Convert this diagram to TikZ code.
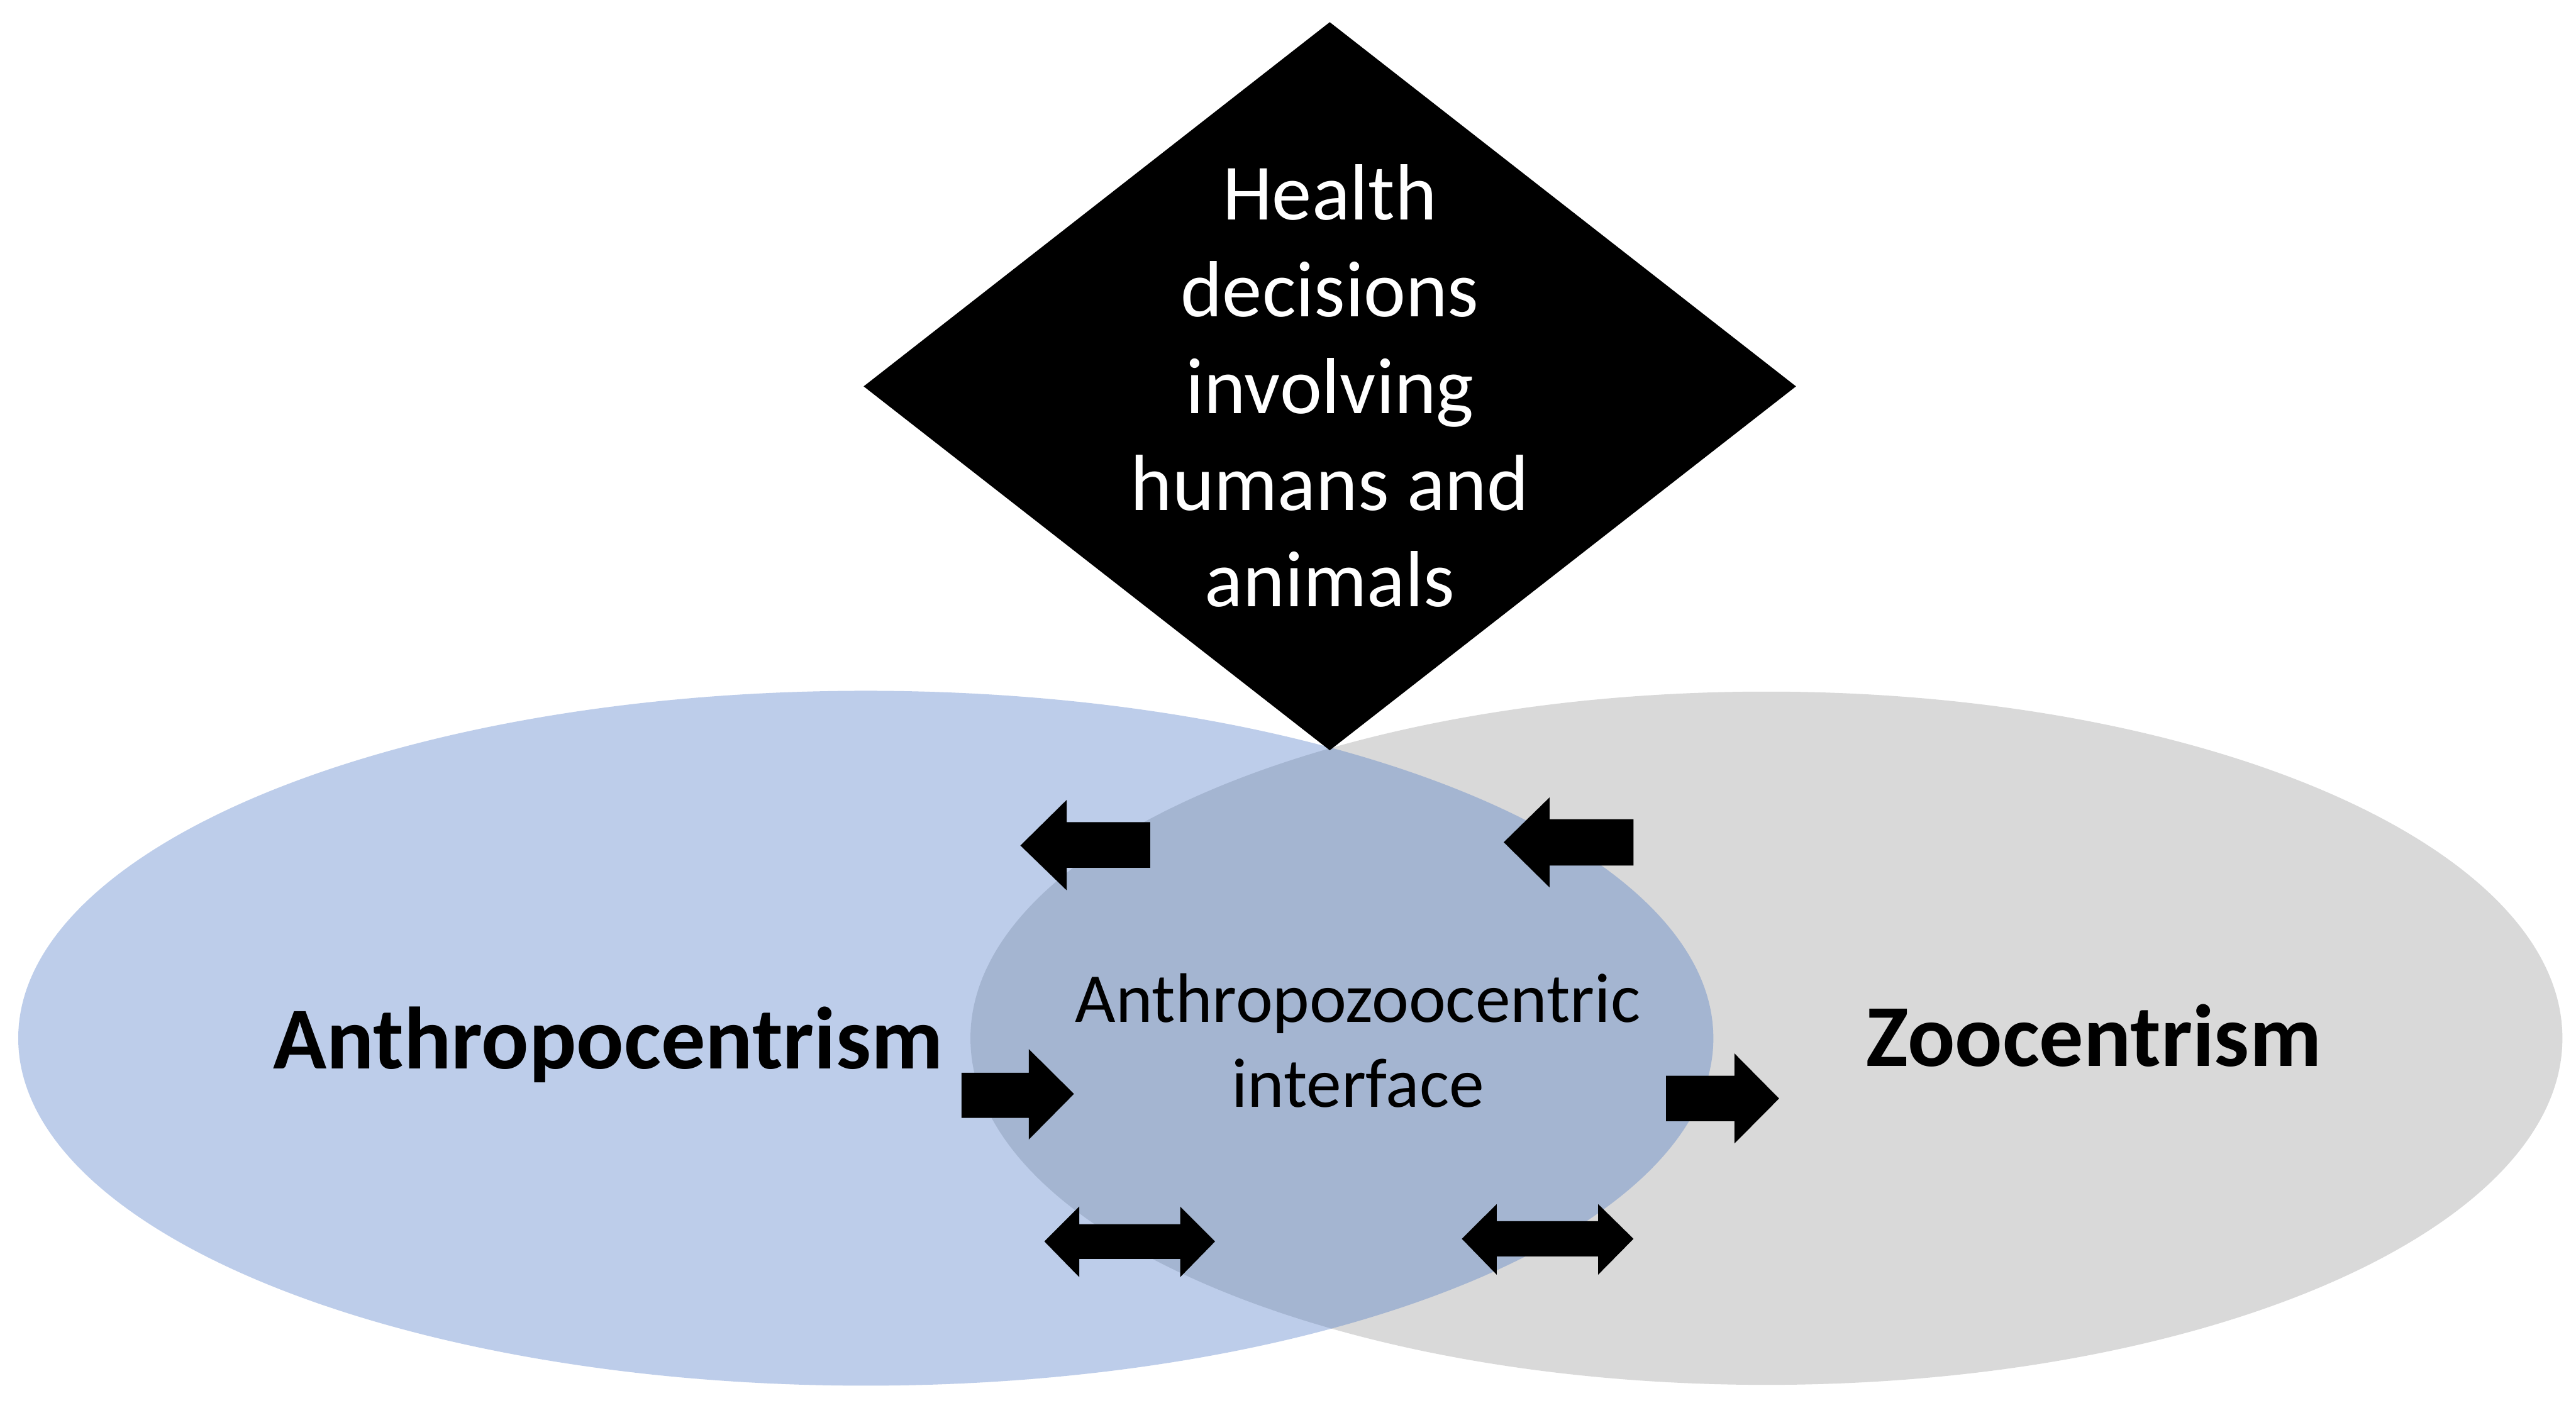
\documentclass[tikz,border=0pt]{standalone}
\usepackage{fontspec}
\setmainfont{Carlito}
\usetikzlibrary{positioning}

\begin{document}
\begin{tikzpicture}[
  blockarrow/.style={fill=black},
  centrism/.style={font=\fontsize{15.3}{18}\selectfont\bfseries, anchor=base, inner sep=0pt},
  decisiontext/.style={font=\fontsize{13.8}{16.75}\selectfont, text=white, align=center, inner sep=0pt},
  interfacetext/.style={font=\fontsize{12.15}{14.65}\selectfont, align=center, inner sep=0pt}
]
  \definecolor{anthroblue}{HTML}{4472C4}
  \definecolor{zoogray}{HTML}{D9D9D9}

  \fill[white] (0,0) rectangle (15.68,8.54);
  \useasboundingbox (0,0) rectangle (15.68,8.54);

  % the two centrisms, blue laid over grey
  \fill[zoogray] (10.752,2.22) ellipse [x radius=4.845, y radius=2.11];
  \fill[anthroblue, fill opacity=0.35] (5.27,2.22) ellipse [x radius=5.159, y radius=2.115];

  % decision diamond
  \coordinate (dtop) at (8.094,8.405);
  \coordinate (dleft) at (5.257,6.188);
  \coordinate (dright) at (10.932,6.188);
  \coordinate (dbottom) at (8.094,3.973);
  \fill[black] (dtop) -- (dright) -- (dbottom) -- (dleft) -- cycle;
  \node[decisiontext] (decision) at (8.094,6.19) {Health\\decisions\\involving\\humans and\\animals};

  \node[centrism] (anthro) at (3.701,2.035) {Anthropocentrism};
  \node[centrism] (zoo) at (12.745,2.05) {Zoocentrism};
  \node[interfacetext] (interface) at (8.265,2.2055) {Anthropozoocentric\\interface};

  % arrows pointing left (top)
  \fill[blockarrow] (6.211,3.393) -- (6.493,3.671) -- (6.493,3.535) -- (7.001,3.535)
    -- (7.001,3.258) -- (6.493,3.258) -- (6.493,3.12) -- cycle;
  \fill[blockarrow] (9.153,3.413) -- (9.432,3.686) -- (9.432,3.553) -- (9.943,3.553)
    -- (9.943,3.271) -- (9.432,3.271) -- (9.432,3.138) -- cycle;

  % arrows pointing right (middle)
  \fill[blockarrow] (6.537,1.881) -- (6.262,2.154) -- (6.262,2.01) -- (5.853,2.01)
    -- (5.853,1.735) -- (6.262,1.735) -- (6.262,1.603) -- cycle;
  \fill[blockarrow] (10.829,1.853) -- (10.557,2.128) -- (10.557,1.992) -- (10.141,1.992)
    -- (10.141,1.715) -- (10.557,1.715) -- (10.557,1.579) -- cycle;

  % double arrows (bottom)
  \fill[blockarrow] (6.357,0.983) -- (6.569,1.195) -- (6.569,1.088) -- (7.184,1.088)
    -- (7.184,1.195) -- (7.396,0.983) -- (7.184,0.766) -- (7.184,0.877)
    -- (6.569,0.877) -- (6.569,0.766) -- cycle;
  \fill[blockarrow] (8.898,0.999) -- (9.110,1.21) -- (9.110,1.106) -- (9.728,1.106)
    -- (9.728,1.21) -- (9.943,0.999) -- (9.728,0.781) -- (9.728,0.892)
    -- (9.110,0.892) -- (9.110,0.781) -- cycle;
\end{tikzpicture}
\end{document}
